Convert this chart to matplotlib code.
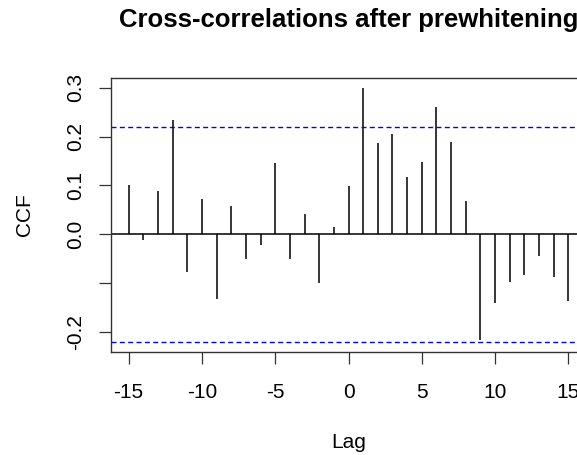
import matplotlib
matplotlib.use("Agg")
import matplotlib.pyplot as plt

# lags and cross-correlation values
lags = list(range(-15, 16))
ccf = [0.101, -0.012, 0.088, 0.235, -0.077, 0.072, -0.132, 0.058, -0.050, -0.023,
       0.145, -0.050, 0.041, -0.101, 0.015, 0.098, 0.300, 0.186, 0.205, 0.118,
       0.148, 0.260, 0.189, 0.069, -0.216, -0.140, -0.097, -0.083, -0.045, -0.088,
       -0.137]
ci = 0.22  # significance bounds (dashed blue)

xticks = [-15, -10, -5, 0, 5, 10, 15]
yticks = [-0.2, -0.1, 0.0, 0.1, 0.2, 0.3]
ylabels = ["-0.2", "", "0.0", "0.1", "0.2", "0.3"]

plt.rcParams['font.family'] = ['Liberation Sans', 'DejaVu Sans']

fig = plt.figure(figsize=(5.77, 4.55), dpi=100)
# axes box runs off the right edge like the cropped original
ax = fig.add_axes([111/577, 1 - 351.7/455, 475/577, (351.7 - 77.7)/455])

ax.vlines(lags, 0, ccf, color='black', lw=1.1)
ax.axhline(0, color='black', lw=1.1)
for h in (ci, -ci):
    ax.axhline(h, color='#0000FF', lw=1.0, dashes=(3.6, 2.4))

lo = min(min(ccf), -ci)
hi = max(max(ccf), ci)
ax.set_xlim(-15 - 0.04 * 30, 15 + 0.04 * 30)
ax.set_ylim(lo - 0.04 * (hi - lo), hi + 0.04 * (hi - lo))

ax.set_xticks(xticks)
ax.set_xticklabels([str(t) for t in xticks])
ax.set_yticks(yticks)
ax.set_yticklabels(ylabels, rotation=90, va='center')
ax.tick_params(axis='both', length=8.6, width=0.9, labelsize=15, color='#333333')
ax.tick_params(axis='x', pad=14)
ax.tick_params(axis='y', pad=10)
for s in ax.spines.values():
    s.set_linewidth(1.0)
    s.set_color('#333333')

ax.set_xlabel('Lag', fontsize=15, labelpad=22)
ax.set_ylabel('CCF', fontsize=15, labelpad=23)

fig.text(348.5/577, 1 - 20/455, 'Cross-correlations after prewhitening',
         ha='center', va='center', fontsize=18.5, fontweight='bold')

fig.savefig('out.png', dpi=100)
